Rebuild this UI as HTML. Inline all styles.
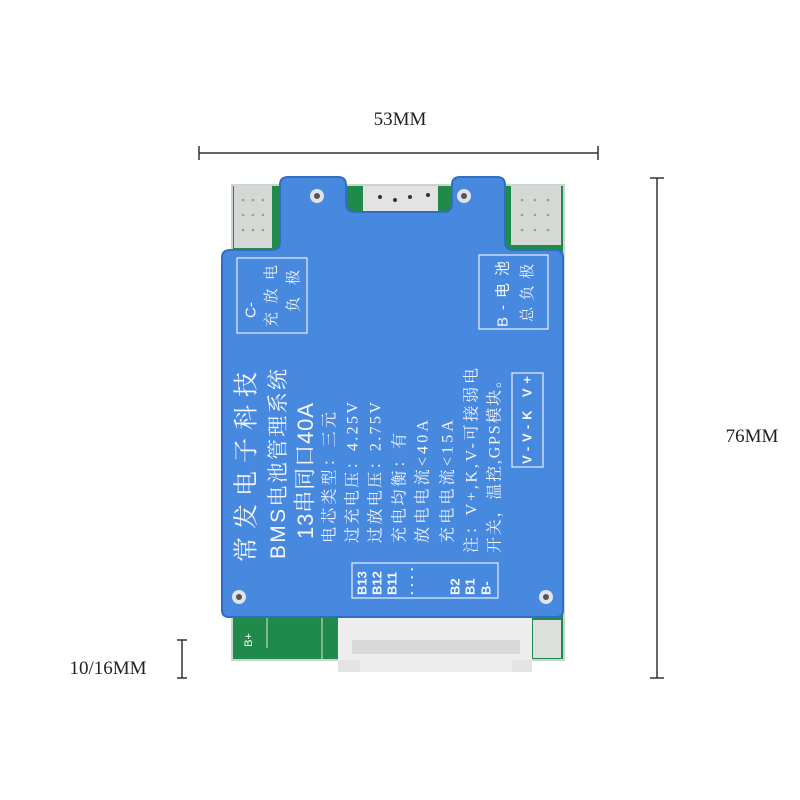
<!DOCTYPE html>
<html><head><meta charset="utf-8"><style>
html,body{margin:0;padding:0;background:#fff;width:800px;height:800px;overflow:hidden}
svg text{font-family:"Liberation Serif","Noto Serif CJK SC",serif}
.s{font-family:"Liberation Sans","Noto Sans CJK SC",sans-serif}
</style></head><body>
<svg width="800" height="800" viewBox="0 0 800 800" xmlns="http://www.w3.org/2000/svg">
<text x="400" y="125" font-size="19" text-anchor="middle" fill="#222">53MM</text>
<line x1="199" y1="153" x2="598" y2="153" stroke="#333" stroke-width="1.5"/>
<line x1="199" y1="146" x2="199" y2="160" stroke="#333" stroke-width="1.5"/>
<line x1="598" y1="146" x2="598" y2="160" stroke="#333" stroke-width="1.5"/>
<line x1="657" y1="178" x2="657" y2="678" stroke="#333" stroke-width="1.5"/>
<line x1="650" y1="178" x2="664" y2="178" stroke="#333" stroke-width="1.5"/>
<line x1="650" y1="678" x2="664" y2="678" stroke="#333" stroke-width="1.5"/>
<text x="752" y="442" font-size="19" text-anchor="middle" fill="#222">76MM</text>
<line x1="182" y1="640" x2="182" y2="678" stroke="#333" stroke-width="1.5"/>
<line x1="177" y1="640" x2="187" y2="640" stroke="#333" stroke-width="1.5"/>
<line x1="177" y1="678" x2="187" y2="678" stroke="#333" stroke-width="1.5"/>
<text x="108" y="674" font-size="19" text-anchor="middle" fill="#222">10/16MM</text>

<rect x="232" y="185" width="332" height="475" fill="#1f8a4a" rx="2"/>
<rect x="232" y="185" width="332" height="475" fill="none" stroke="#c9d6cc" stroke-width="2"/>
<rect x="234" y="185" width="38" height="63" fill="#d6d8d6"/>
<rect x="511" y="185" width="50" height="60" fill="#d6d8d6"/>
<g fill="#9a9d9a">
<circle cx="243" cy="200" r="1.3"/><circle cx="253" cy="200" r="1.3"/><circle cx="263" cy="200" r="1.3"/>
<circle cx="243" cy="215" r="1.3"/><circle cx="253" cy="215" r="1.3"/><circle cx="263" cy="215" r="1.3"/>
<circle cx="243" cy="230" r="1.3"/><circle cx="253" cy="230" r="1.3"/><circle cx="263" cy="230" r="1.3"/>
<circle cx="522" cy="200" r="1.3"/><circle cx="535" cy="200" r="1.3"/><circle cx="548" cy="200" r="1.3"/>
<circle cx="522" cy="215" r="1.3"/><circle cx="535" cy="215" r="1.3"/><circle cx="548" cy="215" r="1.3"/>
<circle cx="522" cy="230" r="1.3"/><circle cx="535" cy="230" r="1.3"/><circle cx="548" cy="230" r="1.3"/>
</g>
<rect x="363" y="186" width="75" height="26" fill="#e2e3e2"/>
<g fill="#333"><circle cx="380" cy="197" r="2"/><circle cx="395" cy="200" r="2"/><circle cx="410" cy="197" r="2"/><circle cx="428" cy="195" r="2"/></g>
<rect x="338" y="617" width="194" height="55" fill="#ecedec"/>
<rect x="352" y="640" width="168" height="14" fill="#d8d9d8"/>
<rect x="338" y="660" width="22" height="12" fill="#e2e3e2"/>
<rect x="512" y="660" width="20" height="12" fill="#e2e3e2"/>
<rect x="533" y="620" width="28" height="38" fill="#dcdfdc"/>
<text transform="translate(252,640) rotate(-90)" font-size="11" fill="#fff" class="s" text-anchor="middle">B+</text>
<line x1="267" y1="617" x2="267" y2="648" stroke="#d9e8dc" stroke-width="1"/>
<line x1="322" y1="617" x2="322" y2="660" stroke="#d9e8dc" stroke-width="1"/>

<path d="M288,177 H338 Q346,177 346,185 V203 Q346,212 355,212 H444 Q452,212 452,203 V185 Q452,177 460,177 H497 Q505,177 505,185 V242 Q505,250 513,250 H555 Q563,250 563,258 V610 Q563,617 556,617 H229 Q222,617 222,610 V258 Q222,250 230,250 H272 Q280,250 280,242 V185 Q280,177 288,177 Z" fill="#4889e0" stroke="#2f6ec3" stroke-width="2"/>
<g>
<circle cx="317" cy="196" r="7" fill="#dfe3ea"/><circle cx="317" cy="196" r="3" fill="#555"/>
<circle cx="464" cy="196" r="7" fill="#dfe3ea"/><circle cx="464" cy="196" r="3" fill="#555"/>
<circle cx="239" cy="597" r="7" fill="#dfe3ea"/><circle cx="239" cy="597" r="3" fill="#555"/>
<circle cx="546" cy="597" r="7" fill="#dfe3ea"/><circle cx="546" cy="597" r="3" fill="#555"/>
</g>
<g fill="none" stroke="#e8eefa" stroke-width="1.2">
<rect x="237" y="258" width="70" height="75"/>
<rect x="479" y="255" width="69" height="74"/>
<rect x="512" y="373" width="31" height="94"/>
<rect x="352" y="563" width="146" height="35"/>
</g>
<g fill="#f2f5fb" font-size="15" dominant-baseline="central">
<text transform="translate(251,318) rotate(-90)" class="s">C-</text>
<text transform="translate(272,327) rotate(-90)" textLength="62" lengthAdjust="spacing">充放电</text>
<text transform="translate(294,312) rotate(-90)" textLength="42" lengthAdjust="spacing">负极</text>
<text transform="translate(503,327) rotate(-90)" class="s" textLength="66" lengthAdjust="spacing">B-电池</text>
<text transform="translate(528,322) rotate(-90)" textLength="58" lengthAdjust="spacing">总负极</text>
<text transform="translate(527,464) rotate(-90)" class="s" font-size="13" font-weight="bold" textLength="88" lengthAdjust="spacing">V-V-K V+</text>
</g>
<g fill="#f4f7fc" dominant-baseline="central">
<text transform="translate(247,562) rotate(-90)" font-size="25" textLength="190" lengthAdjust="spacing">常发电子科技</text>
<text transform="translate(278,559) rotate(-90)" font-size="21" textLength="190" lengthAdjust="spacing"><tspan class="s">BMS</tspan>电池管理系统</text>
<text transform="translate(305,539) rotate(-90)" font-size="22" textLength="136" lengthAdjust="spacing"><tspan class="s">13</tspan>串同口<tspan class="s">40A</tspan></text>
<g font-size="16">
<text transform="translate(330,543) rotate(-90)" textLength="131" lengthAdjust="spacing">电芯类型：三元</text>
<text transform="translate(353,543) rotate(-90)" textLength="141" lengthAdjust="spacing">过充电压：4.25V</text>
<text transform="translate(376,543) rotate(-90)" textLength="141" lengthAdjust="spacing">过放电压：2.75V</text>
<text transform="translate(400,543) rotate(-90)" textLength="110" lengthAdjust="spacing">充电均衡：有</text>
<text transform="translate(423,543) rotate(-90)" textLength="123" lengthAdjust="spacing">放电电流&lt;40A</text>
<text transform="translate(448,543) rotate(-90)" textLength="123" lengthAdjust="spacing">充电电流&lt;15A</text>
<text transform="translate(472,553) rotate(-90)" textLength="185" lengthAdjust="spacing">注：V+,K,V-可接弱电</text>
<text transform="translate(495,553) rotate(-90)" textLength="181" lengthAdjust="spacing">开关，温控,GPS模块。</text>
</g>
<g font-size="13" font-weight="bold">
<text transform="translate(362,595) rotate(-90)" class="s">B13</text>
<text transform="translate(377,595) rotate(-90)" class="s">B12</text>
<text transform="translate(392,595) rotate(-90)" class="s">B11</text>
<text transform="translate(412,595) rotate(-90)" class="s">· · · ·</text>
<text transform="translate(455,595) rotate(-90)" class="s">B2</text>
<text transform="translate(470,595) rotate(-90)" class="s">B1</text>
<text transform="translate(486,595) rotate(-90)" class="s">B-</text>
</g>
</g>
</svg>
</body></html>
